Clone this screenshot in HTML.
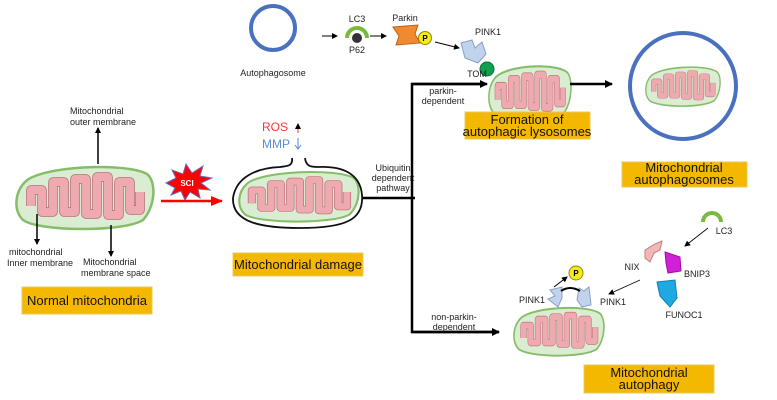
<!DOCTYPE html>
<html><head><meta charset="utf-8"><style>
body{margin:0;background:#fff;}
svg{display:block;font-family:"Liberation Sans",sans-serif;}
.t{font-size:9px;fill:#222;}
.b{font-size:13px;fill:#111;}
</style></head><body>
<svg width="777" height="400" viewBox="0 0 777 400" xmlns="http://www.w3.org/2000/svg">
<defs>
<symbol id="mito" viewBox="0 0 140 70" preserveAspectRatio="none">
<path d="M10,20 C25,4 110,0 132,12 C142,20 140,45 128,58 C110,70 25,70 8,58 C-2,48 0,30 10,20Z" fill="#daedd2" stroke="#86bd68" stroke-width="2.5"/>
<path d="M16,44 L16,28 L27,28 L27,50 L38,50 L38,20 L49,20 L49,50 L60,50 L60,17 L71,17 L71,52 L82,52 L82,15 L93,15 L93,53 L104,53 L104,20 L115,20 L115,48 L125,48 L125,30" fill="none" stroke="#b56a72" stroke-width="9.5" stroke-linejoin="round"/>
<path d="M16,44 L16,28 L27,28 L27,50 L38,50 L38,20 L49,20 L49,50 L60,50 L60,17 L71,17 L71,52 L82,52 L82,15 L93,15 L93,53 L104,53 L104,20 L115,20 L115,48 L125,48 L125,30" fill="none" stroke="#eeaab0" stroke-width="8" stroke-linejoin="round"/>
</symbol>
<marker id="ar" markerWidth="8" markerHeight="8" refX="7" refY="4" orient="auto" markerUnits="userSpaceOnUse"><path d="M0,0 L8,4 L0,8Z" fill="#000"/></marker>
<marker id="as" markerWidth="6" markerHeight="6" refX="5" refY="3" orient="auto" markerUnits="userSpaceOnUse"><path d="M0,0 L6,3 L0,6Z" fill="#000"/></marker>
<marker id="rd" markerWidth="12" markerHeight="12" refX="11" refY="6" orient="auto" markerUnits="userSpaceOnUse"><path d="M0,1 L12,6 L0,11Z" fill="#f00"/></marker>
</defs>

<use href="#mito" x="15" y="162" width="140" height="70"/>
<line x1="98" y1="164" x2="98" y2="128" stroke="#000" stroke-width="1.5" marker-end="url(#as)"/>
<text class="t" x="70" y="114">Mitochondrial</text>
<text class="t" x="70" y="125">outer membrane</text>
<line x1="37" y1="214" x2="37" y2="244" stroke="#000" stroke-width="1.5" marker-end="url(#as)"/>
<line x1="111" y1="225" x2="111" y2="256" stroke="#000" stroke-width="1.5" marker-end="url(#as)"/>
<text class="t" x="9" y="255">mitochondrial</text>
<text class="t" x="7" y="266">Inner membrane</text>
<text class="t" x="83" y="265">Mitochondrial</text>
<text class="t" x="81" y="276">membrane space</text>
<rect x="22" y="287" width="130" height="27" fill="#f5b800" stroke="#e8c860"/>
<text class="b" x="87" y="305" text-anchor="middle">Normal mitochondria</text>

<polygon points="166,183 176,178 172,170 183,174 186,164 192,173 203,166 200,176 212,178 201,183 210,190 198,189 200,198 190,192 185,200 181,191 171,195 175,188" fill="#f00" stroke="#6070c0" stroke-width="1"/>
<text x="187" y="186" font-size="8" fill="#fff" font-weight="bold" text-anchor="middle">SCI</text>
<line x1="161" y1="201" x2="222" y2="201" stroke="#f00" stroke-width="2.5" marker-end="url(#rd)"/>

<path d="M292,158 C293,166 288,166 280,167 C255,168 236,178 233,198 C232,222 260,228 300,228 C345,228 364,220 362,195 C360,172 340,166 318,167 C310,167 306,166 305,158" fill="#fff" stroke="none"/>
<use href="#mito" x="238" y="168" width="122" height="56"/>
<path d="M292,158 C293,166 288,166 280,167 C255,168 236,178 233,198 C232,222 260,228 300,228 C345,228 364,220 362,195 C360,172 340,166 318,167 C310,167 306,166 305,158" fill="none" stroke="#111" stroke-width="1.8"/>
<text x="262" y="131" font-size="12" fill="#f33">ROS</text>
<text x="262" y="148" font-size="12" fill="#5a8ad8">MMP</text>
<line x1="298" y1="133" x2="298" y2="124" stroke="#f33" stroke-width="1" marker-end="url(#as)"/>
<line x1="298" y1="138" x2="298" y2="148" stroke="#5a8ad8" stroke-width="1"/>
<path d="M295,145 L298,149 L301,145" fill="none" stroke="#5a8ad8"/>
<rect x="233" y="253" width="130" height="23" fill="#f5b800" stroke="#e8c860"/>
<text class="b" x="298" y="269" text-anchor="middle">Mitochondrial damage</text>

<text class="t" x="393" y="171" text-anchor="middle" font-size="8">Ubiquitin</text>
<text class="t" x="393" y="181" text-anchor="middle" font-size="8">dependent</text>
<text class="t" x="393" y="191" text-anchor="middle" font-size="8">pathway</text>
<polyline points="363,198 415,198" fill="none" stroke="#000" stroke-width="2.5"/>
<polyline points="485,84 412,84 412,332 499,332" fill="none" stroke="#000" stroke-width="2.5"/>
<line x1="412" y1="84" x2="487" y2="84" stroke="#000" stroke-width="2.5" marker-end="url(#ar)"/>
<line x1="412" y1="332" x2="499" y2="332" stroke="#000" stroke-width="2.5" marker-end="url(#ar)"/>
<text class="t" x="443" y="94" text-anchor="middle" font-size="8">parkin-</text>
<text class="t" x="443" y="104" text-anchor="middle" font-size="8">dependent</text>
<text class="t" x="454" y="320" text-anchor="middle" font-size="8">non-parkin-</text>
<text class="t" x="454" y="330" text-anchor="middle" font-size="8">dependent</text>

<circle cx="273" cy="28" r="22" fill="#fff" stroke="#4a70c0" stroke-width="4"/>
<text class="t" x="273" y="76" text-anchor="middle" font-size="8">Autophagosome</text>
<line x1="322" y1="36" x2="337" y2="36" stroke="#000" marker-end="url(#as)"/>
<path d="M347,38 A10,10 0 0 1 367,38" fill="none" stroke="#7ab840" stroke-width="4"/>
<circle cx="357" cy="38" r="5" fill="#333"/>
<text class="t" x="357" y="22" text-anchor="middle" font-size="8">LC3</text>
<text class="t" x="357" y="53" text-anchor="middle" font-size="8">P62</text>
<line x1="370" y1="36" x2="386" y2="36" stroke="#000" marker-end="url(#as)"/>
<path d="M393,27 L418,25 L415,34 L420,43 L396,45 L399,36Z" fill="#f08a30" stroke="#c06010"/>
<text class="t" x="405" y="21" text-anchor="middle" font-size="8">Parkin</text>
<circle cx="425" cy="38" r="6.5" fill="#f3ea20" stroke="#998800"/>
<text x="425" y="41" font-size="8" text-anchor="middle" font-weight="bold">P</text>
<line x1="435" y1="42" x2="459" y2="48" stroke="#000" marker-end="url(#as)"/>
<text class="t" x="488" y="35" text-anchor="middle" font-size="8">PINK1</text>
<path d="M461,43 L472,40 L475,48 L482,42 L486,54 L478,63 L465,58Z" fill="#bfd3ec" stroke="#8aa0c0"/>
<use href="#mito" x="488" y="62" width="84" height="60"/>
<circle cx="487" cy="69" r="7" fill="#10a050" stroke="#0a7030"/>
<text class="t" x="477" y="77" text-anchor="middle" font-size="8">TOM</text>
<rect x="465" y="112" width="125" height="27" fill="#f5b800" stroke="#e8c860"/>
<text class="b" x="527" y="124" text-anchor="middle" font-size="11">Formation of</text>
<text class="b" x="527" y="136" text-anchor="middle" font-size="11">autophagic lysosomes</text>
<line x1="570" y1="84" x2="612" y2="84" stroke="#000" stroke-width="2.5" marker-end="url(#ar)"/>
<circle cx="683" cy="86" r="53" fill="#fff" stroke="#4a70c0" stroke-width="4"/>
<use href="#mito" x="645" y="64" width="76" height="44"/>
<rect x="622" y="162" width="125" height="25" fill="#f5b800" stroke="#e8c860"/>
<text class="b" x="684" y="172" text-anchor="middle" font-size="11">Mitochondrial</text>
<text class="b" x="684" y="184" text-anchor="middle" font-size="11">autophagosomes</text>

<use href="#mito" x="513" y="304" width="92" height="54"/>
<path d="M550,290 L562,287 L562,298 L558,307 L548,299 L555,296Z" fill="#bfd3ec" stroke="#8aa0c0"/>
<path d="M579,288 L584,291 L589,287 L591,305 L582,307 L577,300Z" fill="#bfd3ec" stroke="#8aa0c0"/>
<path d="M561,291 Q570,285 580,291" fill="none" stroke="#000" stroke-width="2"/>
<circle cx="576" cy="273" r="7" fill="#f3ea20" stroke="#998800"/>
<text x="576" y="276" font-size="8" text-anchor="middle" font-weight="bold">P</text>
<line x1="554" y1="287" x2="567" y2="277" stroke="#000" marker-end="url(#as)"/>
<text class="t" x="532" y="303" text-anchor="middle" font-size="8">PINK1</text>
<text class="t" x="613" y="305" text-anchor="middle" font-size="8">PINK1</text>
<line x1="640" y1="280" x2="609" y2="294" stroke="#000" stroke-width="0.8" marker-end="url(#as)"/>
<path d="M645,250 L655,244 L662,241 L660,250 L654,253 L650,262 L645,258Z" fill="#f2b8b8" stroke="#c08080"/>
<text class="t" x="632" y="270" text-anchor="middle" font-size="8">NIX</text>
<path d="M665,252 L680,257 L681,271 L668,273 L666,263Z" fill="#d020d8" stroke="#a010a0"/>
<text class="t" x="697" y="277" text-anchor="middle" font-size="8">BNIP3</text>
<path d="M657,282 L675,280 L677,298 L670,307 L660,296Z" fill="#20a8e0" stroke="#1080b0"/>
<text class="t" x="684" y="318" text-anchor="middle" font-size="8">FUNOC1</text>
<path d="M703,222 A9,9 0 0 1 721,222" fill="none" stroke="#7ab840" stroke-width="4"/>
<text class="t" x="724" y="234" text-anchor="middle" font-size="8">LC3</text>
<line x1="708" y1="228" x2="685" y2="246" stroke="#000" stroke-width="0.8" marker-end="url(#as)"/>
<rect x="584" y="365" width="130" height="28" fill="#f5b800" stroke="#e8c860"/>
<text class="b" x="649" y="377" text-anchor="middle" font-size="11">Mitochondrial</text>
<text class="b" x="649" y="389" text-anchor="middle" font-size="11">autophagy</text>
</svg>
</body></html>
